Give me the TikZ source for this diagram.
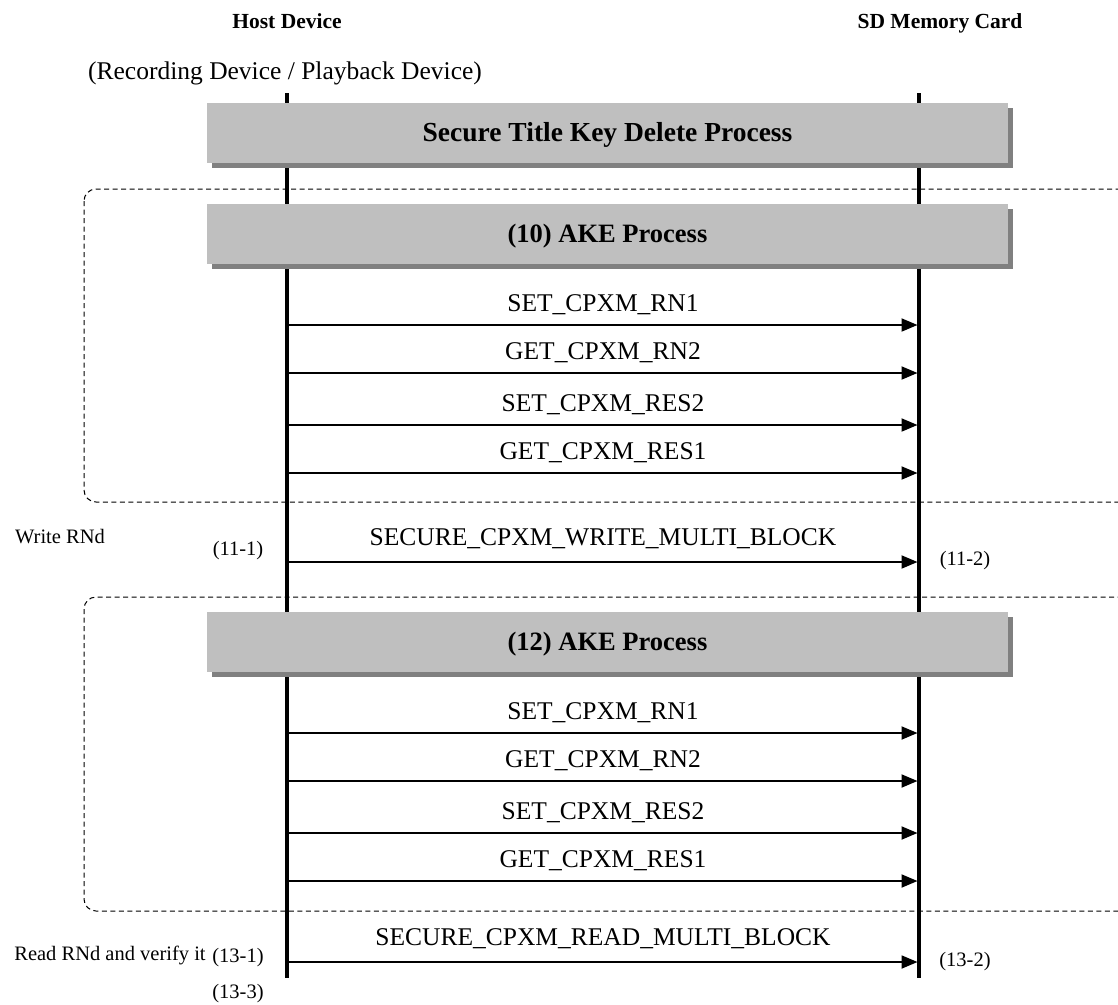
\documentclass[tikz,border=0pt]{standalone}
\usepackage{fontspec}
\setmainfont{Liberation Serif}
\usetikzlibrary{arrows.meta,calc,shadows}
\begin{document}
\begin{tikzpicture}[x=1pt,y=-1pt,
  msg/.style={line width=1.9pt,-{Triangle[length=16pt,width=13pt]}},
  life/.style={line width=3.3pt},
  grp/.style={draw=black,line width=1pt,dash pattern=on 5pt off 3.5pt,rounded corners=12pt},
  hdr/.style={font=\fontsize{21.5}{24}\selectfont\bfseries,inner sep=0pt},
  sub/.style={font=\fontsize{25.5}{28}\selectfont,inner sep=0pt},
  procbox/.style={fill=black!25,minimum width=801pt,minimum height=60pt,inner sep=0pt,
     drop shadow={shadow xshift=5pt,shadow yshift=-5pt,fill=black!50,opacity=1}},
  proctext/.style={font=\fontsize{26.5}{30}\selectfont\bfseries,inner sep=0pt,anchor=base},
  lbl/.style={font=\fontsize{25.5}{28}\selectfont,inner sep=0pt,anchor=base},
  side/.style={font=\fontsize{20.5}{24}\selectfont,inner sep=0pt,anchor=base}
]
\useasboundingbox (0,0) rectangle (1118,1004);
\clip (0,0) rectangle (1118,1004);

% column headers
\node[hdr,anchor=base] (hosth) at (287,28) {Host Device};
\node[hdr,anchor=base] (cardh) at (940,28) {SD Memory Card};
\node[sub,anchor=base] (hostsub) at (285,79) {(Recording Device / Playback Device)};

% group (dashed) boxes
\draw[grp] (84,189) rectangle (1132,502);
\draw[grp] (84,597) rectangle (1132,911);

% lifelines
\coordinate (h0) at (287,93);
\coordinate (h1) at (287,978);
\coordinate (c0) at (919,93);
\coordinate (c1) at (919,978);
\draw[life] (h0) -- (h1);
\draw[life] (c0) -- (c1);

% process boxes
\node[procbox] (p0) at (607.5,133) {};
\node[proctext,font=\fontsize{27.5}{30}\selectfont\bfseries] at ($(p0.center)+(0,8.5)$) {Secure Title Key Delete Process};
\node[procbox] (p1) at (607.5,234) {};
\node[proctext] at ($(p1.center)+(0,8)$) {(10) AKE Process};
\node[procbox] (p2) at (607.5,642) {};
\node[proctext] at ($(p2.center)+(0,8)$) {(12) AKE Process};

% messages
\foreach \n/\y/\d/\t in {
  a1/325/14/SET\_CPXM\_RN1,
  a2/373/14/GET\_CPXM\_RN2,
  a3/425/14/SET\_CPXM\_RES2,
  a4/473/14/GET\_CPXM\_RES1,
  w/562/17/SECURE\_CPXM\_WRITE\_MULTI\_BLOCK,
  b1/733/14/SET\_CPXM\_RN1,
  b2/781/14/GET\_CPXM\_RN2,
  b3/833/14/SET\_CPXM\_RES2,
  b4/881/14/GET\_CPXM\_RES1,
  r/962/17/SECURE\_CPXM\_READ\_MULTI\_BLOCK}{
  \coordinate (s\n) at (288.5,\y);
  \coordinate (e\n) at (917.5,\y);
  \draw[msg] (s\n) -- (e\n);
  \node[lbl] (l\n) at ($(s\n)!0.5!(e\n)+(0,-\d)$) {\t};
}

% side labels
\node[side] (wr) at (60,543) {Write RNd};
\node[side] (s111) at (238,555) {(11-1)};
\node[side] (s112) at (965,565) {(11-2)};
\node[side] (rd) at (110,960) {Read RNd and verify it};
\node[side] (s131) at (238,962) {(13-1)};
\node[side] (s132) at (965,966) {(13-2)};
\node[side] (s133) at (238,998) {(13-3)};
\end{tikzpicture}
\end{document}
